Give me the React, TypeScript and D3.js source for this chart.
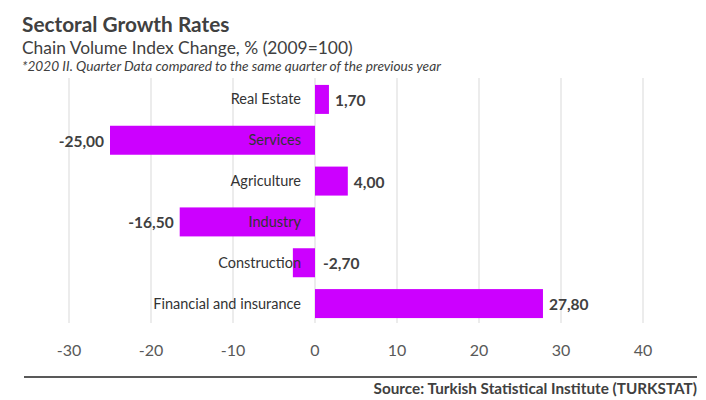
import React, { useEffect, useRef } from 'react';
import * as d3 from 'd3';

const categories = ['Real Estate', 'Services', 'Agriculture', 'Industry', 'Construction', 'Financial and insurance'];
const values = [1.7, -25.0, 4.0, -16.5, -2.7, 27.8];
const tickValues = [-30, -20, -10, 0, 10, 20, 30, 40];

const title = 'Sectoral Growth Rates';
const subtitle = 'Chain Volume Index Change, % (2009=100)';
const note = '*2020 II. Quarter Data compared to the same quarter of the previous year';
const source = 'Source: Turkish Statistical Institute (TURKSTAT)';

const WIDTH = 706;
const HEIGHT = 400;
const FONT = 'Lato, "Open Sans", sans-serif';
const BAR = '#cc00ff';
const TEXT = '#404040';

const fmt = (v: number) => v.toFixed(2).replace('.', ',');

const App: React.FC = () => {
  const svgRef = useRef<SVGSVGElement>(null);

  useEffect(() => {
    document.body.style.margin = '0';
    if (!svgRef.current) return;

    const svg = d3.select(svgRef.current);
    svg.selectAll('*').remove();

    const x = d3.scaleLinear().domain([-30, 40]).range([69, 643]);
    const y = d3.scaleBand<string>()
      .domain(categories)
      .range([79, 324])
      .paddingInner(0.29)
      .paddingOuter(0.145);

    svg.append('rect').attr('width', WIDTH).attr('height', HEIGHT).attr('fill', '#fff');

    // Header
    svg.append('text')
      .attr('x', 22).attr('y', 32)
      .attr('font-family', FONT).attr('font-weight', 700).attr('font-size', 20.8)
      .attr('fill', TEXT)
      .text(title);
    svg.append('text')
      .attr('x', 22).attr('y', 54)
      .attr('font-family', FONT).attr('font-size', 17.4)
      .attr('fill', TEXT)
      .text(subtitle);
    svg.append('text')
      .attr('x', 22).attr('y', 71)
      .attr('font-family', FONT).attr('font-style', 'italic').attr('font-size', 13.7)
      .attr('fill', TEXT)
      .text(note);

    // Grid lines
    svg.append('g')
      .selectAll('line')
      .data(tickValues)
      .enter()
      .append('line')
      .attr('x1', d => x(d)).attr('x2', d => x(d))
      .attr('y1', 78).attr('y2', 323)
      .attr('stroke', '#d9d9d9')
      .attr('stroke-width', 1);

    // Tick labels
    svg.append('g')
      .selectAll('text')
      .data(tickValues)
      .enter()
      .append('text')
      .attr('x', d => x(d))
      .attr('y', 356)
      .attr('text-anchor', 'middle')
      .attr('font-family', FONT).attr('font-size', 16)
      .attr('fill', '#595959')
      .text(d => String(d));

    const rows = categories.map((c, i) => ({ c, v: values[i] }));

    // Bars
    svg.append('g')
      .selectAll('rect')
      .data(rows)
      .enter()
      .append('rect')
      .attr('x', d => x(Math.min(0, d.v)))
      .attr('width', d => Math.abs(x(d.v) - x(0)))
      .attr('y', d => y(d.c)!)
      .attr('height', y.bandwidth())
      .attr('fill', BAR);

    // Category labels
    svg.append('g')
      .selectAll('text')
      .data(rows)
      .enter()
      .append('text')
      .attr('x', x(0) - 14)
      .attr('y', d => y(d.c)! + y.bandwidth() / 2)
      .attr('dy', '0.35em')
      .attr('text-anchor', 'end')
      .attr('font-family', FONT).attr('font-size', 14.5)
      .attr('fill', '#333')
      .text(d => d.c);

    // Value labels
    svg.append('g')
      .selectAll('text')
      .data(rows)
      .enter()
      .append('text')
      .attr('x', d => {
        if (d.v >= 0) return x(d.v) + 6;
        if (x(0) - x(d.v) < 40) return x(0) + 8;
        return x(d.v) - 6;
      })
      .attr('y', d => y(d.c)! + y.bandwidth() / 2 + 1)
      .attr('dy', '0.35em')
      .attr('text-anchor', d => (d.v < 0 && x(0) - x(d.v) >= 40 ? 'end' : 'start'))
      .attr('font-family', FONT).attr('font-weight', 700).attr('font-size', 15.5)
      .attr('fill', TEXT)
      .text(d => fmt(d.v));

    // Footer
    svg.append('line')
      .attr('x1', 24).attr('x2', 697)
      .attr('y1', 377).attr('y2', 377)
      .attr('stroke', '#595959')
      .attr('stroke-width', 2);
    svg.append('text')
      .attr('x', 697).attr('y', 394)
      .attr('text-anchor', 'end')
      .attr('font-family', FONT).attr('font-weight', 700).attr('font-size', 15.3)
      .attr('fill', TEXT)
      .text(source);
  }, []);

  return <svg ref={svgRef} width={WIDTH} height={HEIGHT} style={{ display: 'block' }} />;
};

export default App;
